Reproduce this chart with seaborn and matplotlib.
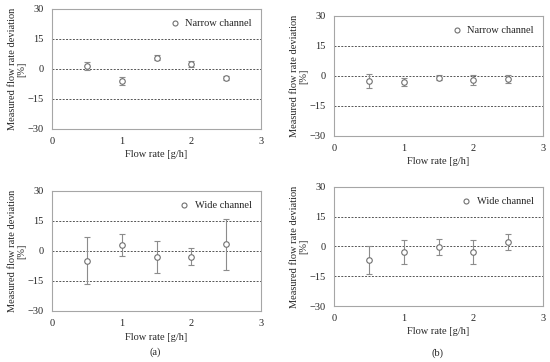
import matplotlib
matplotlib.use("Agg")
import matplotlib.pyplot as plt
import seaborn as sns
import pandas as pd
import numpy as np

flow_rate = [0.5, 1.0, 1.5, 2.0, 2.5]

a_narrow_mean = [1.7, -5.8, 5.7, 2.5, -4.7]
a_narrow_err = [2.0, 2.0, 1.3, 1.5, 1.0]
a_wide_mean = [-4.8, 3.0, -2.8, -2.8, 3.3]
a_wide_err = [11.6, 5.7, 8.0, 4.1, 12.7]
b_narrow_mean = [-2.5, -3.0, -0.8, -2.0, -1.5]
b_narrow_err = [3.5, 2.0, 1.2, 2.3, 2.2]
b_wide_mean = [-6.9, -2.8, -0.3, -2.8, 2.2]
b_wide_err = [6.9, 6.2, 3.9, 6.2, 4.1]

y_ticks = [-30, -15, 0, 15, 30]
x_ticks = [0, 1, 2, 3]

sns.set_theme(style="white")
plt.rcParams['font.family'] = ['Liberation Serif', 'DejaVu Serif']

W, H = 550, 362
fig = plt.figure(figsize=(W / 100, H / 100), dpi=100)

def add_ax(l, t, r, b):
    return fig.add_axes([l / W, 1 - b / H, (r - l) / W, (b - t) / H])

panels = [
    (add_ax(52, 9, 261, 129), a_narrow_mean, a_narrow_err, "Narrow channel"),
    (add_ax(334, 16, 543, 136), b_narrow_mean, b_narrow_err, "Narrow channel"),
    (add_ax(52, 191, 261, 311), a_wide_mean, a_wide_err, "Wide channel"),
    (add_ax(334, 187, 543, 306), b_wide_mean, b_wide_err, "Wide channel"),
]

gray = "#8c8c8c"
for ax, mean, err, label in panels:
    for yv in [-15, 0, 15]:
        ax.axhline(yv, color="#555555", lw=0.7, ls=(0, (2.0, 1.5)), zorder=1)
    ax.errorbar(flow_rate, mean, yerr=err, fmt="none", ecolor=gray,
                elinewidth=0.8, capsize=2, capthick=0.8, zorder=2)
    df = pd.DataFrame({"x": flow_rate, "y": mean})
    sns.scatterplot(data=df, x="x", y="y", ax=ax, marker="o", s=16,
                    facecolor="white", edgecolor="#707070", linewidth=0.8,
                    label=label, zorder=3)
    ax.set_xlim(0, 3)
    ax.set_ylim(-30, 30)
    ax.set_xticks(x_ticks)
    ax.set_yticks(y_ticks)
    ax.tick_params(axis="y", labelsize=7.5, length=0, pad=6)
    ax.tick_params(axis="x", labelsize=7.5, length=0, pad=6)
    for s in ax.spines.values():
        s.set_color("#a6a6a6")
        s.set_linewidth(0.8)
    ax.set_xlabel("Flow rate [g/h]", fontsize=7.5, labelpad=3)
    ax.set_ylabel("Measured flow rate deviation\n[%]", fontsize=7.5,
                  labelpad=1, linespacing=1.0)
    leg = ax.legend(loc="upper right", frameon=False, fontsize=7.5,
                    handletextpad=0.0, borderaxespad=0.5, markerscale=0.9)

fig.text(155 / W, 1 - 352 / H, "(a)", fontsize=7.5, ha="center", va="center")
fig.text(438 / W, 1 - 353 / H, "(b)", fontsize=7.5, ha="center", va="center")

fig.savefig("out.png", dpi=100, facecolor="white")
